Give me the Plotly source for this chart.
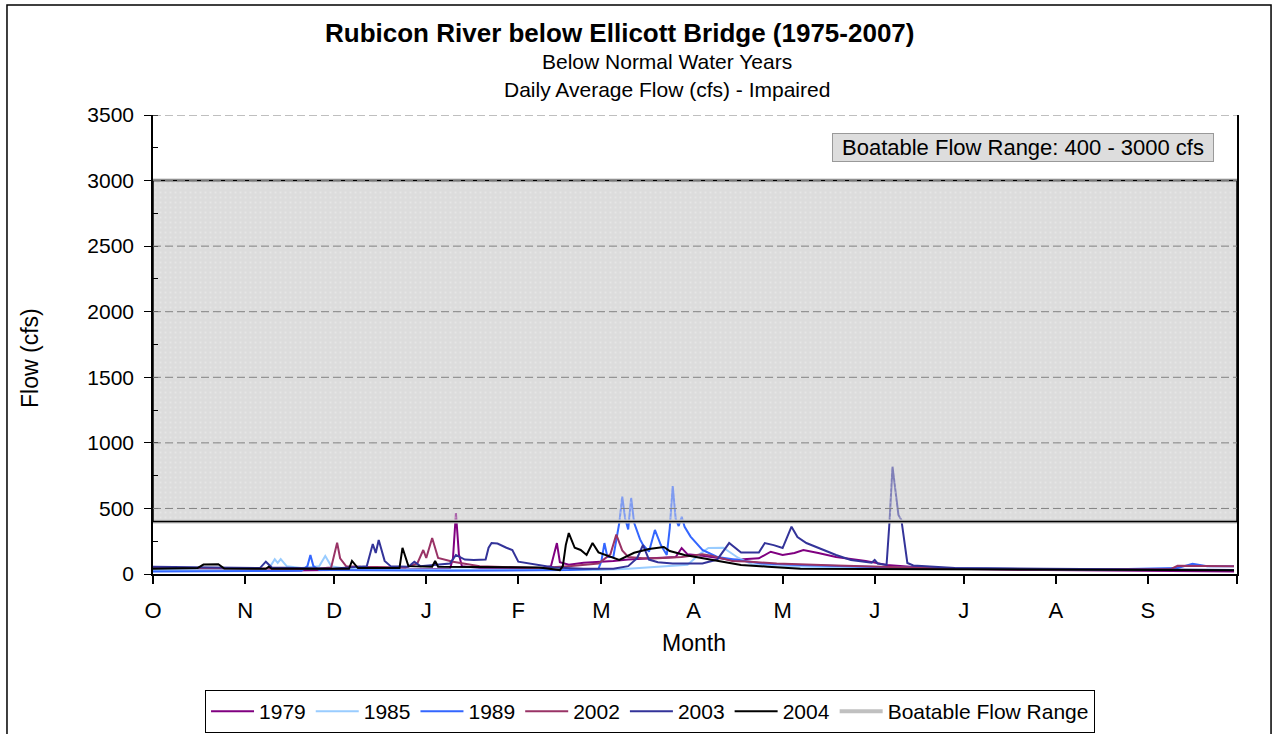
import plotly.graph_objects as go

# ---------------- data ----------------
MONTH_LETTERS = ["O", "N", "D", "J", "F", "M", "A", "M", "J", "J", "A", "S"]
MONTH_DAYS = [31, 30, 31, 31, 28, 31, 30, 31, 30, 31, 31, 30]  # water year Oct..Sep

RANGE_LOW = 400
RANGE_HIGH = 3000
Y_MAX = 3500
Y_STEP = 500

y1979_day = [0, 20, 40, 60, 90, 100, 101, 102, 103, 104, 110, 130, 134, 136, 137, 140, 145, 150, 155, 160,
             170, 176, 178, 180, 185, 195, 200, 204, 208, 212, 216, 219, 224, 230, 240, 247, 255, 270, 300,
             330, 345, 364]
y1979_cfs = [30, 28, 25, 30, 35, 40, 120, 465, 150, 60, 45, 40, 60, 236, 90, 70, 85, 90, 100, 110,
             120, 130, 198, 150, 140, 107, 115, 120, 170, 145, 160, 183, 160, 130, 100, 69, 55, 40, 30,
             25, 22, 20]

y1985_day = [0, 30, 39, 41, 42, 43, 45, 50, 56, 58, 60, 65, 90, 120, 150, 160, 170, 180, 184, 187, 192,
             197, 202, 210, 220, 240, 260, 300, 340, 364]
y1985_cfs = [30, 30, 40, 113, 85, 113, 60, 45, 60, 137, 60, 40, 35, 30, 30, 40, 55, 70, 150, 198, 200,
             124, 70, 60, 55, 50, 40, 35, 32, 30]

y1989_day = [0, 30, 50, 52, 53, 54, 56, 100, 120, 140, 150, 151, 152, 153, 155, 157, 158, 159, 160, 161,
             162, 164, 165, 167, 169, 171, 173, 174, 175, 176, 177, 178, 179, 181, 185, 190, 197, 205, 215,
             230, 250, 280, 320, 345, 350, 355, 364]
y1989_cfs = [20, 20, 25, 60, 145, 60, 30, 25, 25, 30, 40, 100, 236, 130, 130, 389, 590, 420, 340, 580,
             390, 264, 221, 170, 336, 221, 145, 350, 671, 420, 366, 437, 360, 285, 183, 130, 107, 80, 70,
             60, 50, 40, 35, 45, 78, 60, 60]

y2002_day = [0, 30, 55, 60, 62, 63, 65, 70, 85, 89, 91, 92, 94, 96, 101, 110, 120, 130, 140, 150, 154, 156,
             158, 160, 165, 170, 178, 185, 188, 195, 200, 210, 230, 250, 270, 300, 330, 343, 345, 364]
y2002_cfs = [45, 45, 40, 50, 239, 120, 60, 55, 50, 80, 183, 122, 274, 122, 94, 60, 50, 45, 60, 80, 150, 300,
             180, 130, 120, 120, 130, 150, 140, 100, 95, 80, 65, 50, 40, 35, 35, 40, 63, 60]

y2003_day = [0, 20, 36, 38, 40, 60, 72, 74, 75, 76, 78, 80, 86, 88, 90, 100, 102, 105, 108, 112, 113, 114,
             116, 119, 121, 123, 127, 135, 145, 155, 160, 163, 165, 167, 170, 175, 185, 190, 194, 198, 204,
             206, 209, 212, 215, 217, 220, 224, 230, 235, 242, 243, 244, 247, 248, 249, 251, 252, 254, 256,
             270, 300, 330, 364]
y2003_cfs = [55, 50, 45, 94, 50, 40, 60, 229, 160, 259, 100, 60, 55, 94, 60, 80, 145, 110, 107, 110, 200, 236,
             232, 200, 183, 94, 80, 50, 40, 40, 60, 120, 221, 110, 90, 80, 80, 110, 236, 163, 163,
             236, 220, 198, 361, 282, 236, 198, 145, 107, 86, 107, 80, 69, 400, 818, 450, 412, 84, 65,
             45, 40, 35, 30]

y2004_day = [0, 15, 17, 22, 24, 38, 39, 40, 66, 67, 69, 83, 84, 86, 94, 95, 96, 120, 130, 137, 138, 139, 140,
             142, 144, 146, 148, 150, 155, 157, 162, 167, 172, 174, 179, 185, 191, 198, 207, 218, 240, 270,
             300, 330, 364]
y2004_cfs = [40, 45, 72, 75, 42, 40, 55, 40, 40, 100, 45, 45, 200, 60, 55, 100, 55, 55, 50, 30, 60, 221, 312,
             200, 183, 145, 236, 165, 122, 107, 162, 190, 206, 175, 145, 120, 94, 69, 56, 40, 38, 35,
             32, 30, 28]

SERIES = [
    ("1979", y1979_day, y1979_cfs, "#800080"),
    ("1985", y1985_day, y1985_cfs, "#99CCFF"),
    ("1989", y1989_day, y1989_cfs, "#3366FF"),
    ("2002", y2002_day, y2002_cfs, "#993366"),
    ("2003", y2003_day, y2003_cfs, "#333399"),
    ("2004", y2004_day, y2004_cfs, "#000000"),
]

# ---------------- figure ----------------
FONT = "Liberation Sans, Arial, sans-serif"
month_starts = [0]
for d in MONTH_DAYS:
    month_starts.append(month_starts[-1] + d)
YEAR_END = month_starts[-1]

fig = go.Figure()

for name, days, cfs, color in SERIES:
    fig.add_trace(go.Scatter(x=days, y=cfs, mode="lines", name=name,
                             line=dict(color=color, width=2), hoverinfo="skip"))

# boatable range gray edge lines (legend entry)
fig.add_trace(go.Scatter(
    x=[0, YEAR_END, None, 0, YEAR_END],
    y=[RANGE_HIGH, RANGE_HIGH, None, RANGE_LOW, RANGE_LOW],
    mode="lines", name="Boatable Flow Range",
    line=dict(color="#C0C0C0", width=4), hoverinfo="skip"))

# semi-transparent dotted overlay box (fades the lines underneath)
fig.add_trace(go.Scatter(
    x=[0, YEAR_END, YEAR_END, 0, 0],
    y=[RANGE_LOW, RANGE_LOW, RANGE_HIGH, RANGE_HIGH, RANGE_LOW],
    mode="lines", fill="toself", fillcolor="rgba(221,221,221,0.45)",
    fillpattern=dict(shape=".", fillmode="overlay", fgcolor="rgba(255,255,255,0.55)",
                     size=5, solidity=0.12),
    line=dict(color="black", width=1.5), showlegend=False, hoverinfo="skip"))

# opaque gray box under everything
fig.add_shape(type="rect", xref="x", yref="y", x0=0, x1=YEAR_END, y0=RANGE_LOW, y1=RANGE_HIGH,
              fillcolor="#DDDDDD", line=dict(width=0), layer="below")

# dashed horizontal gridlines (drawn above so they stay dark inside the gray box)
for gv in range(Y_STEP, Y_MAX + 1, Y_STEP):
    fig.add_shape(type="line", xref="paper", yref="y", x0=0, x1=1, y0=gv, y1=gv,
                  line=dict(color="#808080", width=1, dash="8px,4px"), layer="above")

# outer chart border
fig.add_shape(type="rect", xref="paper", yref="paper",
              x0=-0.1347, x1=1.0314, y0=-0.40, y1=1.2397,
              line=dict(color="black", width=1.5), fillcolor="rgba(0,0,0,0)", layer="above")

# titles
fig.add_annotation(text="<b>Rubicon River below Ellicott Bridge (1975-2007)</b>", xref="paper", yref="paper",
                   x=0.43, y=1.1786, showarrow=False, font=dict(family=FONT, size=26, color="black"),
                   xanchor="center", yanchor="middle")
fig.add_annotation(text="Below Normal Water Years", xref="paper", yref="paper",
                   x=0.474, y=1.1155, showarrow=False, font=dict(family=FONT, size=21, color="black"),
                   xanchor="center", yanchor="middle")
fig.add_annotation(text="Daily Average Flow (cfs) - Impaired", xref="paper", yref="paper",
                   x=0.474, y=1.0545, showarrow=False, font=dict(family=FONT, size=21, color="black"),
                   xanchor="center", yanchor="middle")

# axis titles
fig.add_annotation(text="Month", xref="paper", yref="paper", x=0.499, y=-0.150, showarrow=False,
                   font=dict(family=FONT, size=23, color="black"), xanchor="center", yanchor="middle")
fig.add_annotation(text="Flow (cfs)", xref="paper", yref="paper", x=-0.1135, y=0.4706, showarrow=False,
                   textangle=-90, font=dict(family=FONT, size=23, color="black"),
                   xanchor="center", yanchor="middle")

# range label box
fig.add_annotation(text="Boatable Flow Range: 400 - 3000 cfs", xref="paper", yref="paper",
                   x=0.8026, y=0.930, showarrow=False, font=dict(family=FONT, size=22, color="black"),
                   bgcolor="#DDDDDD", bordercolor="#999999", borderwidth=1, borderpad=1,
                   width=378, height=25, xanchor="center", yanchor="middle")

fig.update_layout(
    width=1278, height=734,
    margin=dict(l=153, r=41, t=115, b=160, autoexpand=False),
    paper_bgcolor="white", plot_bgcolor="white",
    font=dict(family=FONT, size=20, color="black"),
    showlegend=True,
    legend=dict(orientation="h", x=0.048, y=-0.2527, xanchor="left", yanchor="top",
                bordercolor="black", borderwidth=1, bgcolor="white",
                font=dict(family=FONT, size=21), itemwidth=43, tracegroupgap=0),
)

fig.update_xaxes(
    range=[0, YEAR_END], tickmode="array", tickvals=month_starts,
    ticktext=MONTH_LETTERS + [""], ticks="outside", ticklen=8, tickcolor="black", tickwidth=1.5,
    showline=True, linecolor="black", linewidth=1.5, showgrid=False, zeroline=False,
    tickfont=dict(family=FONT, size=22), ticklabelstandoff=8,
)
fig.update_yaxes(
    range=[0, Y_MAX], tickmode="linear", tick0=0, dtick=Y_STEP, ticks="outside", ticklen=7,
    tickcolor="black", showline=True, linecolor="black", linewidth=1.5, mirror=True,
    showgrid=False, zeroline=False,
    tickfont=dict(family=FONT, size=21), ticklabelstandoff=6,
    minor=dict(dtick=Y_STEP / 2, ticks="inside", ticklen=5, tickcolor="black", showgrid=False),
)

fig.write_html("out.html", config={"displayModeBar": False},
               post_script="document.body.style.margin='0px';")
